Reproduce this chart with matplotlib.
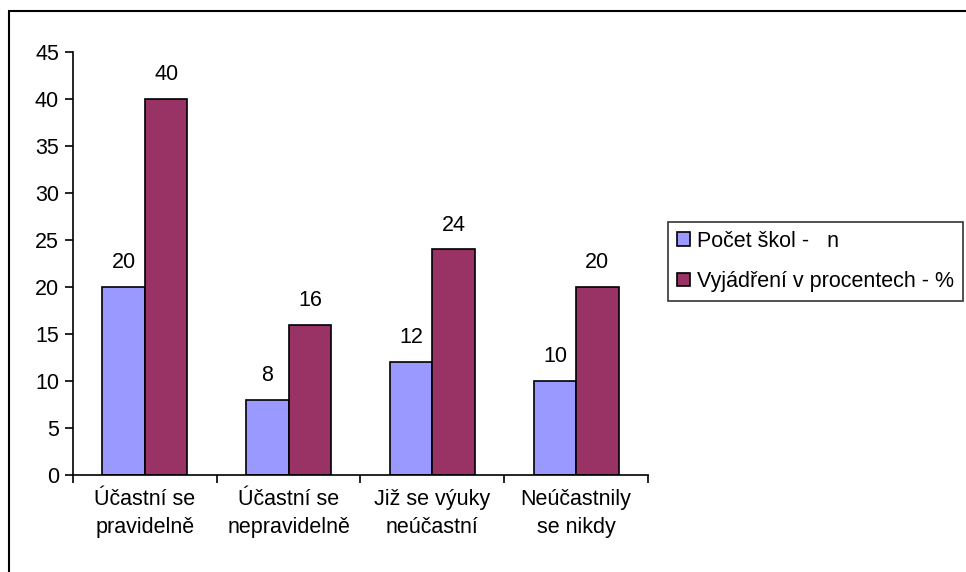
import matplotlib.pyplot as plt
import numpy as np
from matplotlib.patches import Rectangle

plt.rcParams['font.family'] = ['Liberation Sans', 'DejaVu Sans']

categories = ['Účastní se\npravidelně', 'Účastní se\nnepravidelně',
              'Již se výuky\nneúčastní', 'Neúčastnily\nse nikdy']
pocet_skol = [20, 8, 12, 10]
procenta = [40, 16, 24, 20]
series_names = ['Počet škol -   n', 'Vyjádření v procentech - %']
yticks = [0, 5, 10, 15, 20, 25, 30, 35, 40, 45]

FS = 15.5
W, H = 966, 572
fig = plt.figure(figsize=(W / 100, H / 100), dpi=100)

# outer chart frame (runs off the right and bottom edge like the original)
fig.patches.append(Rectangle((9 / W, -0.05), 1.1, 1 - 11 / H + 0.05,
                             transform=fig.transFigure, fill=False,
                             edgecolor='black', linewidth=1.5))

ax = fig.add_axes([73 / W, 1 - 475 / H, (648 - 73) / W, (475 - 52) / H])

x = np.arange(len(categories))
bw = 0.295
b1 = ax.bar(x - bw / 2, pocet_skol, bw, color='#9999FF', edgecolor='black',
            linewidth=1.2, label=series_names[0])
b2 = ax.bar(x + bw / 2, procenta, bw, color='#993366', edgecolor='black',
            linewidth=1.2, label=series_names[1])

for bars, vals in [(b1, pocet_skol), (b2, procenta)]:
    for rect, v in zip(bars, vals):
        ax.annotate(str(v), (rect.get_x() + rect.get_width() / 2, v),
                    xytext=(0, 10), textcoords='offset points',
                    ha='center', va='bottom', fontsize=FS)

ax.set_xlim(-0.5, len(categories) - 0.5)
ax.set_ylim(0, 45)
ax.set_yticks(yticks)
ax.set_xticks(np.arange(len(categories) + 1) - 0.5, minor=True)
ax.set_xticks(x)
ax.set_xticklabels(categories, fontsize=FS, linespacing=1.45)
ax.tick_params(axis='x', which='major', length=0, pad=10)
ax.tick_params(axis='x', which='minor', length=6, direction='out', width=1.2)
ax.tick_params(axis='y', length=6, direction='out', width=1.2,
               labelsize=FS, pad=4)

for s in ['top', 'right']:
    ax.spines[s].set_visible(False)
for s in ['left', 'bottom']:
    ax.spines[s].set_linewidth(1.2)

leg = fig.legend(handles=[b1, b2], loc='upper left',
                 bbox_to_anchor=(668 / W, 1 - 222 / H), fontsize=FS,
                 frameon=True, fancybox=False, edgecolor='black',
                 handlelength=0.6, handleheight=0.6, handletextpad=0.35,
                 borderpad=0.4, labelspacing=0.9, borderaxespad=0)
leg.get_frame().set_linewidth(1.2)

fig.savefig('out.png', dpi=100)
